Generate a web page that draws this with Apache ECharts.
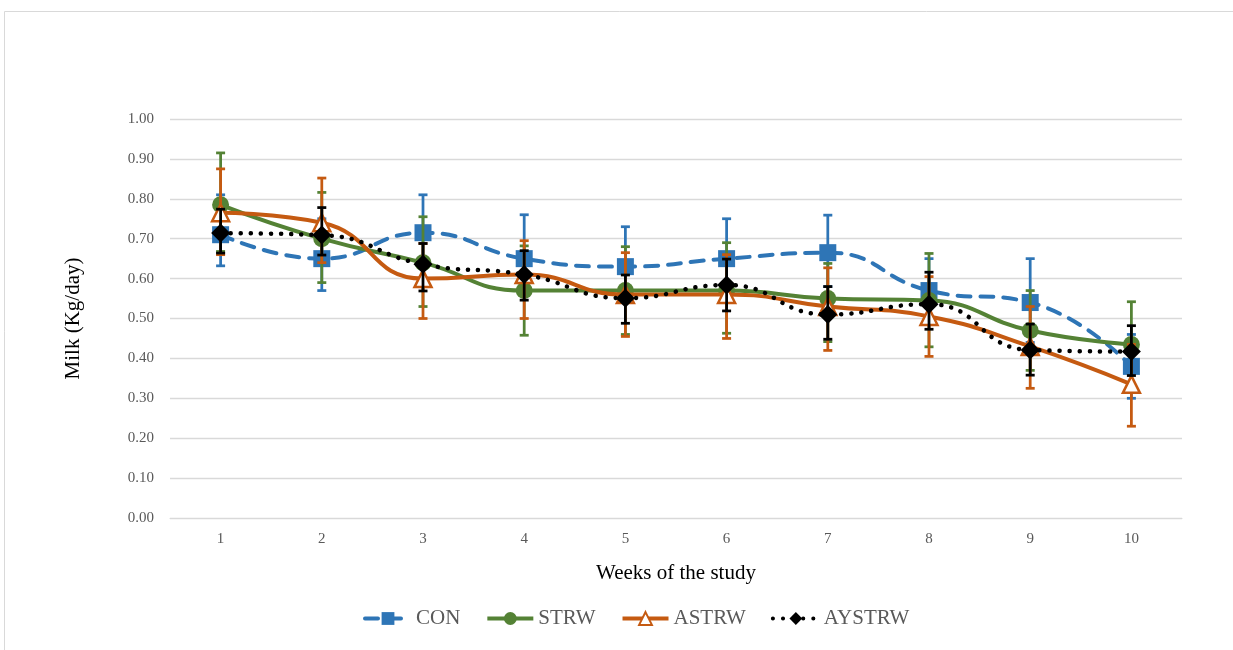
<!DOCTYPE html>
<html>
<head>
<meta charset="utf-8">
<script src="https://cdn.jsdelivr.net/npm/echarts@6/dist/echarts.min.js"></script>
<style>html,body{margin:0;padding:0;background:#fff;}#c{width:1233px;height:650px;}</style>
</head>
<body>
<div id="c"></div>
<script>
const weeks = ['1','2','3','4','5','6','7','8','9','10'];
const conVals   = [0.71, 0.65, 0.715, 0.65, 0.63, 0.65, 0.665, 0.57, 0.54, 0.38];
const conUp     = [0.10, 0.10, 0.095, 0.11, 0.10, 0.10, 0.094, 0.08, 0.11, 0.08];
const conDown   = [0.078, 0.08, 0.09, 0.09, 0.09, 0.09, 0.085, 0.078, 0.10, 0.08];
const strwVals  = [0.785, 0.70, 0.64, 0.57, 0.57, 0.57, 0.55, 0.545, 0.47, 0.435];
const strwUp    = [0.13, 0.116, 0.115, 0.112, 0.11, 0.12, 0.088, 0.118, 0.10, 0.107];
const strwDown  = [0.117, 0.11, 0.11, 0.112, 0.11, 0.107, 0.108, 0.116, 0.10, 0.10];
const astrwVals = [0.765, 0.74, 0.60, 0.61, 0.56, 0.56, 0.53, 0.505, 0.43, 0.335];
const astrwUp   = [0.11, 0.112, 0.088, 0.085, 0.105, 0.10, 0.097, 0.10, 0.10, 0.10];
const astrwDown = [0.105, 0.10, 0.10, 0.11, 0.105, 0.11, 0.11, 0.10, 0.105, 0.105];
const aystrwVals = [0.714, 0.709, 0.636, 0.61, 0.551, 0.584, 0.51, 0.536, 0.421, 0.417];
const aystrwUp   = [0.06, 0.069, 0.052, 0.06, 0.058, 0.065, 0.07, 0.08, 0.065, 0.065];
const aystrwDown = [0.05, 0.05, 0.067, 0.064, 0.063, 0.065, 0.062, 0.063, 0.063, 0.06];

const C_BLUE = '#2E75B6', C_GREEN = '#548235', C_ORANGE = '#C55A11', C_BLACK = '#000000';
const FONT = '"Liberation Serif", "Times New Roman", serif';

function errData(vals, up, down) {
  return vals.map((v, i) => [i, v - down[i], v + up[i]]);
}
function errSeries(name, vals, up, down, color, z) {
  return {
    type: 'custom',
    name: name + ' err',
    z: z,
    silent: true,
    legendHoverLink: false,
    data: errData(vals, up, down),
    encode: { x: 0, y: [1, 2] },
    renderItem: function (params, api) {
      const x = api.value(0);
      const lo = api.coord([x, api.value(1)]);
      const hi = api.coord([x, api.value(2)]);
      const hw = 4.5;
      const st = { stroke: color, lineWidth: 2.75 };
      return {
        type: 'group',
        children: [
          { type: 'line', shape: { x1: lo[0], y1: lo[1], x2: hi[0], y2: hi[1] }, style: st },
          { type: 'line', shape: { x1: lo[0] - hw, y1: lo[1], x2: lo[0] + hw, y2: lo[1] }, style: st },
          { type: 'line', shape: { x1: hi[0] - hw, y1: hi[1], x2: hi[0] + hw, y2: hi[1] }, style: st }
        ]
      };
    }
  };
}

const chart = echarts.init(document.getElementById('c'), null, { renderer: 'canvas' });
chart.setOption({
  animation: false,
  backgroundColor: '#fff',
  graphic: [{
    type: 'rect', silent: true,
    shape: { x: 4.5, y: 11.5, width: 1300, height: 700 },
    style: { fill: 'none', stroke: '#d9d9d9', lineWidth: 1 }
  }],
  grid: { left: 170, right: 51, top: 119, bottom: 132 },
  legend: {
    top: 603,
    left: 358,
    itemWidth: 46,
    itemHeight: 16,
    itemGap: 25,
    data: ['CON', 'STRW', 'ASTRW', 'AYSTRW'],
    lineStyle: { width: 4 },
    textStyle: { fontFamily: FONT, fontSize: 21, color: '#595959' }
  },
  xAxis: {
    type: 'category',
    data: weeks,
    boundaryGap: true,
    name: 'Weeks of the study',
    nameLocation: 'middle',
    nameGap: 45,
    nameTextStyle: { fontFamily: FONT, fontSize: 21, color: '#000' },
    axisLine: { lineStyle: { color: '#d9d9d9', width: 1 } },
    axisTick: { show: false },
    axisLabel: { fontFamily: FONT, fontSize: 15, color: '#595959', margin: 14 }
  },
  yAxis: {
    type: 'value',
    min: 0, max: 1, interval: 0.1,
    name: 'Milk (Kg/day)',
    nameLocation: 'middle',
    nameGap: 86,
    nameRotate: 90,
    nameTextStyle: { fontFamily: FONT, fontSize: 21, color: '#000' },
    axisLine: { show: false },
    axisTick: { show: false },
    splitLine: { lineStyle: { color: '#d9d9d9', width: 1.3 } },
    axisLabel: {
      fontFamily: FONT, fontSize: 15, color: '#595959', margin: 16,
      formatter: v => v.toFixed(2)
    }
  },
  series: [
    errSeries('CON', conVals, conUp, conDown, C_BLUE, 2),
    {
      name: 'CON', type: 'line', data: conVals, smooth: 0.5, z: 3,
      symbol: 'rect', symbolSize: 17,
      lineStyle: { color: C_BLUE, width: 4, type: [13, 10], cap: 'round' },
      itemStyle: { color: C_BLUE }
    },
    errSeries('STRW', strwVals, strwUp, strwDown, C_GREEN, 4),
    {
      name: 'STRW', type: 'line', data: strwVals, smooth: 0.5, z: 5,
      symbol: 'circle', symbolSize: 17,
      lineStyle: { color: C_GREEN, width: 4 },
      itemStyle: { color: C_GREEN }
    },
    errSeries('ASTRW', astrwVals, astrwUp, astrwDown, C_ORANGE, 6),
    {
      name: 'ASTRW', type: 'line', data: astrwVals, smooth: 0.5, z: 7,
      symbol: 'triangle', symbolSize: 17,
      lineStyle: { color: C_ORANGE, width: 4 },
      itemStyle: { color: '#fff', borderColor: C_ORANGE, borderWidth: 2.5 }
    },
    errSeries('AYSTRW', aystrwVals, aystrwUp, aystrwDown, C_BLACK, 8),
    {
      name: 'AYSTRW', type: 'line', data: aystrwVals, smooth: 0.5, z: 9,
      symbol: 'diamond', symbolSize: 19,
      lineStyle: { color: C_BLACK, width: 4.5, type: [0.1, 10], cap: 'round' },
      itemStyle: { color: C_BLACK }
    }
  ]
});
</script>
</body>
</html>
